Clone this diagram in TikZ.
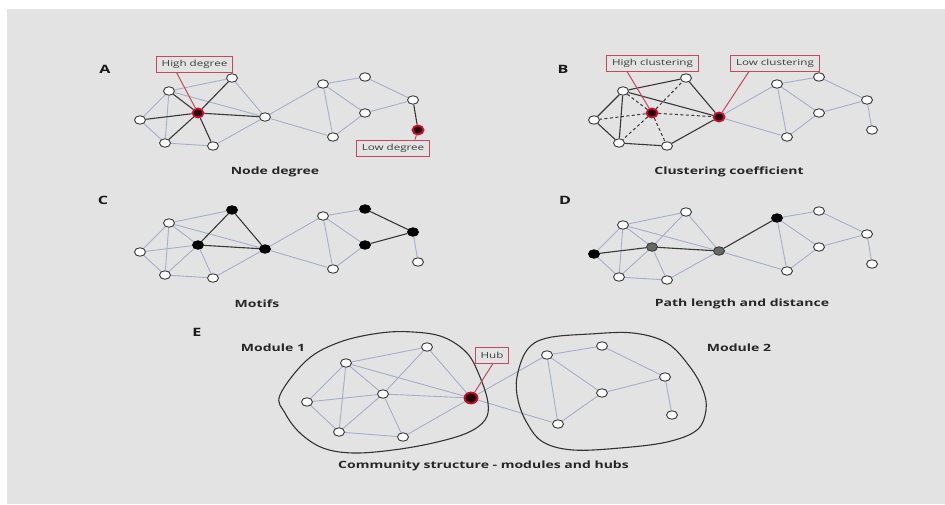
\documentclass[tikz,border=0pt]{standalone}
\usepackage{fontspec}
\setmainfont{Open Sans}[FakeStretch=1.4]
\usetikzlibrary{shapes.geometric}

\definecolor{bgc}{HTML}{E3E3E3}
\definecolor{lite}{HTML}{A5AECA}
\definecolor{dark}{HTML}{383838}
\definecolor{callred}{HTML}{C4485E}
\definecolor{hotred}{HTML}{C8102E}
\definecolor{deepred}{HTML}{2A0008}
\definecolor{midgray}{HTML}{686868}
\definecolor{txtgray}{HTML}{3C3C3C}

\pgfdeclarelayer{bg}
\pgfdeclarelayer{edges}
\pgfsetlayers{bg,edges,main}

\tikzset{
  wnode/.style={ellipse, draw=dark, fill=white, line width=0.9pt,
                minimum width=11pt, minimum height=8.5pt, inner sep=0pt},
  bnode/.style={fill=black, draw=black},
  gnode/.style={fill=midgray, draw=dark},
  rnode/.style={fill=deepred, draw=hotred, line width=1.8pt,
                minimum width=11pt, minimum height=9pt},
  litedge/.style={draw=lite, line width=0.9pt},
  darkedge/.style={draw=dark, line width=1.1pt},
  dashedge/.style={draw=dark, line width=1pt, dash pattern=on 3pt off 2.5pt},
  callout/.style={draw=callred, line width=0.9pt, fill=bgc, text=txtgray,
                  font=\fontsize{8.3}{9}\selectfont, minimum height=16pt,
                  inner xsep=5.5pt, inner ysep=0pt},
  calline/.style={draw=callred, line width=1pt},
  caption/.style={font=\fontsize{10}{12}\selectfont\bfseries, text=black!85},
  letter/.style={font=\fontsize{11.5}{13}\selectfont\bfseries, text=black!90},
  module/.style={draw=black!80, line width=1.1pt},
  % highlighted nodes of the four small networks
  A-h/.style=rnode, A-12/.style=rnode,
  B-h/.style=rnode, B-6/.style=rnode,
  C-2/.style=bnode, C-h/.style=bnode, C-6/.style=bnode,
  C-8/.style=bnode, C-9/.style=bnode, C-11/.style=bnode,
  D-3/.style=bnode, D-h/.style=gnode, D-6/.style=gnode, D-7/.style=bnode,
}

% the same small network, placed once per panel
\newcommand\placenet[1]{%
  \foreach \n/\px/\py in {1/169/91, 2/232/78, h/198/113, 3/140/120, 4/165/143,
      5/213/146, 6/265/117, 7/323/84, 8/365/77, 9/365/113, 10/333/137,
      11/413/100, 12/418/130}{%
    \edef\tmpnode{\noexpand\node[wnode,#1-\n/.try] (#1\n) at (\px,\py) {};}%
    \tmpnode}}
\newcommand\netedges[3]{%
  \begin{pgfonlayer}{edges}
    \foreach \u/\v in {#3} \draw[#2] (#1\u) -- (#1\v);
  \end{pgfonlayer}}

\begin{document}
\begin{tikzpicture}[x=1pt, y=-1pt]
\begin{pgfonlayer}{bg}
  \fill[white] (0,0) rectangle (945,504);
  \fill[bgc] (7,9) rectangle (945,504);
\end{pgfonlayer}

% ---------- A: node degree ----------
\placenet{A}
\netedges{A}{litedge}{1/2,1/3,1/4,1/6,2/6,3/4,4/5,5/6,6/7,6/10,7/8,7/9,7/10,9/10,8/11,9/11}
\netedges{A}{darkedge}{h/1,h/2,h/3,h/4,h/5,h/6,11/12}
\node[letter] (labA) at (105,69) {A};
\node[callout] (hideg) at (194.5,64) {High degree};
\draw[calline] ([xshift=-18pt]hideg.south) -- (Ah);
\node[callout] (lodeg) at (393,148) {Low degree};
\draw[calline] ([xshift=22pt]lodeg.north) -- (A12);
\node[caption] (capA) at (275,172) {Node degree};

% ---------- B: clustering coefficient ----------
\begin{scope}[shift={(454,0)}]
  \placenet{B}
\end{scope}
\netedges{B}{darkedge}{1/2,1/3,1/4,3/4,4/5,5/6,2/6,1/6}
\netedges{B}{dashedge}{h/1,h/2,h/3,h/4,h/5,h/6}
\netedges{B}{litedge}{6/7,6/10,7/8,7/9,7/10,9/10,8/11,9/11,11/12}
\node[letter] (labB) at (563,69) {B};
\node[callout] (hiclu) at (652.5,63) {High clustering};
\draw[calline] ([xshift=-25.5pt]hiclu.south) -- (Bh);
\node[callout] (loclu) at (775,63) {Low clustering};
\draw[calline] ([xshift=-26pt]loclu.south) -- (B6);
\node[caption] (capB) at (729,172) {Clustering coefficient};

% ---------- C: motifs ----------
\begin{scope}[shift={(0,132)}]
  \placenet{C}
\end{scope}
\netedges{C}{litedge}{1/2,1/h,1/3,1/4,1/6,h/3,h/4,h/5,3/4,4/5,5/6,6/7,6/10,7/8,7/9,7/10,9/10,11/12}
\netedges{C}{darkedge}{2/h,2/6,h/6,8/11,9/11}
\node[letter] (labC) at (103,200) {C};
\node[caption] (capC) at (257,304) {Motifs};

% ---------- D: path length ----------
\begin{scope}[shift={(454,134)}]
  \placenet{D}
\end{scope}
\netedges{D}{litedge}{1/2,1/h,1/3,1/4,1/6,2/h,2/6,h/4,h/5,3/4,4/5,5/6,6/10,7/8,7/9,7/10,9/10,8/11,9/11,11/12}
\netedges{D}{darkedge}{3/h,h/6,6/7}
\node[letter] (labD) at (565,200) {D};
\node[caption] (capD) at (742,304) {Path length and distance};

% ---------- E: modules and hubs ----------
\begin{scope}[every node/.append style={minimum width=12pt, minimum height=9.5pt}]
  \foreach \n/\px/\py in {a/346/363, b/427/347, c/383/394, d/307/402, e/339/432,
      f/403/437, g/547/355, h/602/346, i/665/377, j/602/393, k/558/424, l/672/415}
    \node[wnode] (E\n) at (\px,\py) {};
  \node[wnode, rnode, minimum width=13pt, minimum height=11pt] (Ehub) at (471,398) {};
\end{scope}
\netedges{E}{litedge}{a/b,a/d,a/e,a/c,a/hub,b/c,b/hub,d/c,d/e,c/e,c/f,c/hub,e/f,f/hub,
  hub/g,hub/k,g/h,g/j,g/k,h/i,j/i,j/k,i/l}
\draw[module] plot[smooth cycle, tension=0.6] coordinates {
  (280,395) (307,360) (340,342) (380,333) (413,332) (443,337) (467,353)
  (480,377) (488,403) (485,420) (467,433) (433,443) (393,450) (353,453)
  (323,448) (300,433) (285,413)};
\draw[module] plot[smooth cycle, tension=0.6] coordinates {
  (517,377) (527,350) (547,338) (590,334) (633,333) (667,343) (690,367)
  (703,390) (706,410) (697,430) (667,442) (620,448) (573,450) (543,442)
  (527,423) (518,400)};
\node[letter] (labE) at (197,332) {E};
\node[caption] (mod1) at (273,348) {Module 1};
\node[caption] (mod2) at (739,348) {Module 2};
\node[callout] (hubl) at (492,355) {Hub};
\draw[calline] ([xshift=1pt]hubl.south) -- (Ehub);
\node[caption] (capE) at (483.5,466) {Community structure - modules and hubs};
\end{tikzpicture}
\end{document}
